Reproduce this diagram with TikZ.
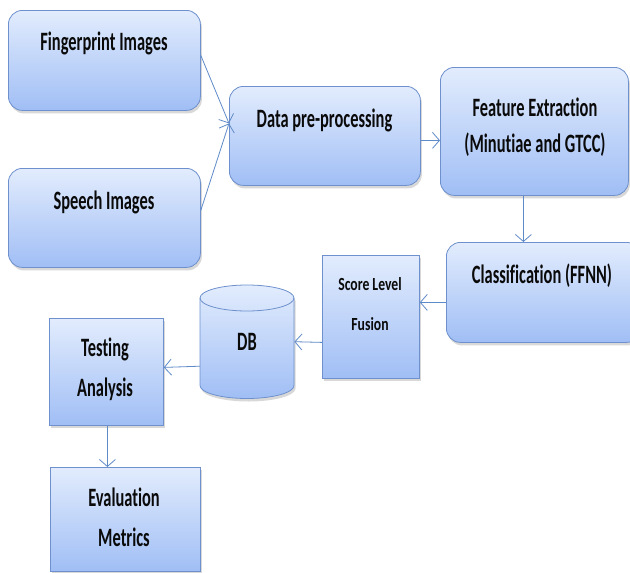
\documentclass[tikz,border=0pt]{standalone}
\usepackage{fontspec}
\setmainfont{Carlito}[Ligatures=NoCommon]
\usepackage{graphicx}
\usetikzlibrary{arrows.meta,shadows,calc}
\definecolor{boxtop}{RGB}{226,236,253}
\definecolor{boxbot}{RGB}{160,190,245}
\definecolor{boxline}{RGB}{110,145,205}
\definecolor{arr}{RGB}{95,138,200}
\definecolor{ink}{RGB}{10,10,10}
\newcommand{\sq}[1]{\scalebox{0.62}[1]{#1}}
\newcommand{\sqs}[1]{\scalebox{0.74}[1]{#1}}
\begin{document}
\begin{tikzpicture}[x=1pt,y=-1pt,
  box/.style={draw=boxline, line width=0.8pt, top color=boxtop, bottom color=boxbot,
    drop shadow={opacity=0.3, shadow xshift=1.5pt, shadow yshift=-3pt}},
  rbox/.style={box, rounded corners=14pt, anchor=north west, inner sep=0pt},
  sbox/.style={box, anchor=north west, inner sep=0pt},
  lab/.style={font=\fontsize{26.5}{30}\selectfont\bfseries, text=ink, anchor=base, inner sep=0pt},
  slab/.style={font=\fontsize{18.5}{22}\selectfont\bfseries, text=ink, anchor=base, inner sep=0pt},
  conn/.style={draw=arr, line width=0.8pt, -{Straight Barb[length=7pt,width=16pt]}}
]
\fill[white] (0,0) rectangle (630,573);
\useasboundingbox (0,0) rectangle (630,573);

% boxes
\node[rbox, minimum width=192, minimum height=100] (fp) at (8,10) {};
\node[rbox, minimum width=192, minimum height=99] (sp) at (8,168) {};
\node[rbox, minimum width=191, minimum height=99] (dp) at (229,86) {};
\node[rbox, minimum width=188, minimum height=128] (fe) at (440,67) {};
\node[rbox, minimum width=194, minimum height=100] (cl) at (446,242) {};
\node[sbox, minimum width=97, minimum height=123] (sf) at (322,255) {};
\node[sbox, minimum width=114, minimum height=107] (ta) at (49,318) {};
\node[sbox, minimum width=150, minimum height=104] (em) at (50,467) {};

% DB cylinder
\path[box] (200,298) -- (200,385.5) arc[start angle=180,end angle=0,x radius=47,y radius=13]
  -- (294,298) arc[start angle=0,end angle=-180,x radius=47,y radius=13] -- cycle;
\draw[boxline, line width=0.8pt] (200,298) arc[start angle=180,end angle=0,x radius=47,y radius=13];
\node[inner sep=0pt, minimum width=94, minimum height=113, anchor=north west] (db) at (200,285) {};

% labels
\node[lab] (tfp) at (104,50) {\sq{Fingerprint Images}};
\node[lab] (tsp) at (104,209) {\sq{Speech Images}};
\node[lab] (tdp) at (324.5,127) {\sq{Data pre-processing}};
\node[lab] (tfe1) at (535,116.7) {\sq{Feature Extraction}};
\node[lab] (tfe2) at (535,152) {\sq{(Minutiae and GTCC)}};
\node[lab] (tcl) at (542,283) {\sq{Classification (FFNN)}};
\node[slab] (tsf1) at (370,290) {\sqs{Score Level}};
\node[slab] (tsf2) at (370,330) {\sqs{Fusion}};
\node[lab] (tdb) at (247,350) {\sq{DB}};
\node[lab] (tta1) at (105,356) {\sq{Testing}};
\node[lab] (tta2) at (105,396) {\sq{Analysis}};
\node[lab] (tem1) at (124,506) {\sq{Evaluation}};
\node[lab] (tem2) at (124,546) {\sq{Metrics}};

% connectors
\draw[conn] ($(fp.east)+(0,-5)$) -- ($(dp.west)+(0,-12.5)$);
\draw[conn] ($(sp.east)+(0,-7.5)$) -- ($(dp.west)+(0,-12.5)$);
\draw[conn] ($(dp.east)+(0,4.5)$) -- ($(fe.west)+(0,9)$);
\draw[conn] ($(fe.south)+(-11,0)$) -- ($(cl.north)+(-20,0)$);
\draw[conn] ($(cl.west)+(0,10)$) -- ($(sf.east)+(0,-14.5)$);
\draw[conn] ($(sf.west)+(0,25.5)$) -- (db.east);
\draw[conn] ($(db.west)+(0,24.5)$) -- ($(ta.east)+(0,-4.5)$);
\draw[conn] ($(ta.south)+(1,0)$) -- ($(em.north)+(-18,0)$);
\end{tikzpicture}
\end{document}
